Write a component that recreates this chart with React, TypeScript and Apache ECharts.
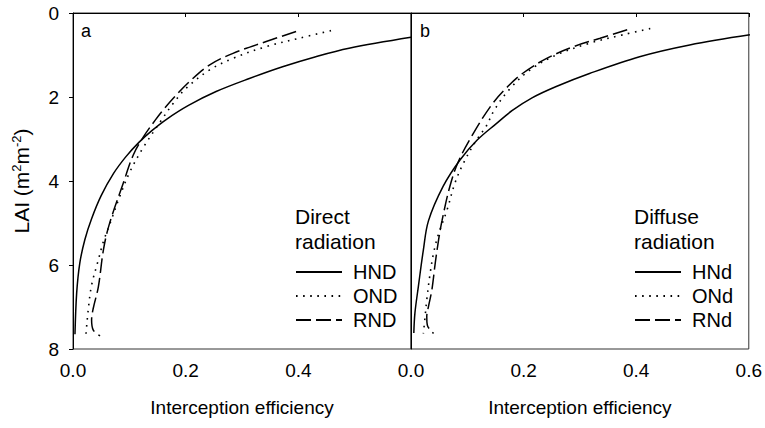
import React, { useEffect, useRef } from "react";
import * as echarts from "echarts";

// Panel a: direct radiation, [interception efficiency, LAI]
const hndA: number[][] = [
  [0.6, 0.58], [0.49, 0.84], [0.431, 1.04], [0.372, 1.28], [0.313, 1.56], [0.254, 1.87],
  [0.205, 2.2], [0.166, 2.53], [0.14, 2.8], [0.117, 3.08], [0.094, 3.42], [0.072, 3.82],
  [0.05, 4.35], [0.033, 4.9], [0.021, 5.4], [0.012, 5.96], [0.0065, 6.67], [0.0035, 7.65],
];
const ondA: number[][] = [
  [0.458, 0.42], [0.402, 0.6], [0.343, 0.8], [0.284, 1.08], [0.242, 1.36], [0.201, 1.79],
  [0.178, 2.15], [0.157, 2.55], [0.124, 3.22], [0.101, 3.78], [0.083, 4.37], [0.066, 5.0],
  [0.054, 5.44], [0.045, 5.88], [0.033, 6.48], [0.027, 7.07], [0.023, 7.65],
];
const rndA: number[][] = [
  [0.396, 0.44], [0.343, 0.68], [0.284, 0.96], [0.242, 1.24], [0.207, 1.63], [0.178, 2.03],
  [0.16, 2.31], [0.146, 2.55], [0.125, 2.95], [0.107, 3.38], [0.089, 4.06], [0.064, 5.05],
  [0.054, 5.64], [0.045, 6.52], [0.036, 7.03], [0.033, 7.31], [0.036, 7.55], [0.048, 7.69],
];
// Panel b: diffuse radiation
const hndB: number[][] = [
  [0.602, 0.52], [0.495, 0.76], [0.406, 1.04], [0.317, 1.44], [0.258, 1.75], [0.215, 2.02],
  [0.18, 2.32], [0.151, 2.64], [0.118, 3.02], [0.087, 3.5], [0.057, 4.13], [0.031, 4.95],
  [0.022, 5.64], [0.013, 6.52], [0.007, 7.14], [0.005, 7.62],
];
const ondB: number[][] = [
  [0.425, 0.37], [0.376, 0.52], [0.317, 0.72], [0.258, 1.0], [0.211, 1.36], [0.174, 1.83],
  [0.148, 2.31], [0.133, 2.71], [0.115, 3.05], [0.093, 3.58], [0.078, 4.05], [0.064, 4.69],
  [0.048, 5.3], [0.04, 5.72], [0.034, 6.2], [0.028, 6.83], [0.025, 7.23], [0.022, 7.63],
];
const rndB: number[][] = [
  [0.384, 0.4], [0.336, 0.6], [0.289, 0.8], [0.241, 1.08], [0.198, 1.44], [0.169, 1.79],
  [0.143, 2.19], [0.111, 2.86], [0.084, 3.54], [0.069, 4.13], [0.055, 4.95], [0.049, 5.4],
  [0.043, 5.96], [0.037, 6.6], [0.031, 6.99], [0.028, 7.23], [0.029, 7.43], [0.04, 7.63],
];

const namesA = ["HND", "OND", "RND"];
const namesB = ["HNd", "ONd", "RNd"];
const FONT = "'Liberation Sans', Arial, sans-serif";

export default function App() {
  const ref = useRef<HTMLDivElement>(null);
  useEffect(() => {
    if (!ref.current) return;
    const chart = echarts.init(ref.current, undefined, { renderer: "svg" });
    const solid = { color: "#000", width: 1.5, type: "solid" as any };
    const dotted = { color: "#000", width: 1.6, type: [1.6, 5.5] as any };
    const dashed = { color: "#000", width: 1.5, type: [15, 5] as any };
    const mk = (name: string, data: number[][], ls: any, idx: number) => ({
      name,
      type: "line",
      xAxisIndex: idx,
      yAxisIndex: idx,
      data,
      symbol: "none",
      smooth: 0.35,
      lineStyle: ls,
      itemStyle: { color: "#000" },
    });
    const xAx = (idx: number, showMax: boolean) => ({
      type: "value",
      gridIndex: idx,
      min: 0,
      max: 0.6,
      interval: 0.2,
      name: "Interception efficiency",
      nameLocation: "middle",
      nameGap: 49,
      nameTextStyle: { fontFamily: FONT, fontSize: 19, color: "#000" },
      axisLine: { show: true, lineStyle: { color: "#000", width: 1 } },
      axisTick: { show: true, length: 4, lineStyle: { color: "#000" } },
      axisLabel: {
        showMaxLabel: showMax,
        margin: 12,
        fontFamily: FONT,
        fontSize: 19,
        color: "#000",
        formatter: (v: number) => v.toFixed(1),
      },
      splitLine: { show: false },
    });
    const yAx = (idx: number, labels: boolean) => ({
      type: "value",
      gridIndex: idx,
      inverse: true,
      min: 0,
      max: 8,
      interval: 2,
      name: labels ? "{n|LAI (m}{s|2}{n|m}{s|-2}{n|)}" : "",
      nameLocation: "middle",
      nameRotate: 90,
      nameGap: 40,
      nameTextStyle: {
        fontFamily: FONT,
        color: "#000",
        rich: {
          n: { fontFamily: FONT, fontSize: 21, color: "#000" },
          s: { fontFamily: FONT, fontSize: 13, color: "#000", padding: [0, 0, 10, 0] },
        },
      },
      axisLine: { show: true, lineStyle: { color: "#000", width: 1 } },
      axisTick: { show: labels, length: 4, lineStyle: { color: "#000" } },
      axisLabel: { show: labels, margin: 14, fontFamily: FONT, fontSize: 19, color: "#000" },
      splitLine: { show: false },
    });
    const legend = (names: string[], left: number) => ({
      data: names,
      left,
      top: 257,
      orient: "vertical",
      itemWidth: 46,
      itemHeight: 14,
      itemGap: 4,
      itemStyle: { color: "transparent", borderColor: "transparent", borderWidth: 0, opacity: 0 },
      textStyle: { fontFamily: FONT, fontSize: 20, color: "#000", lineHeight: 20, padding: [0, 0, 0, 6] },
      selectedMode: false,
    });
    chart.setOption({
      animation: false,
      backgroundColor: "#fff",
      title: [
        {
          text: "Direct\nradiation",
          left: 290,
          top: 199,
          textStyle: { fontFamily: FONT, fontSize: 21, fontWeight: "normal", color: "#000", lineHeight: 25 },
        },
        {
          text: "Diffuse\nradiation",
          left: 629,
          top: 199,
          textStyle: { fontFamily: FONT, fontSize: 21, fontWeight: "normal", color: "#000", lineHeight: 25 },
        },
        {
          text: "a",
          left: 76,
          top: 17,
          textStyle: { fontFamily: FONT, fontSize: 18, fontWeight: "normal", color: "#000" },
        },
        {
          text: "b",
          left: 415,
          top: 17,
          textStyle: { fontFamily: FONT, fontSize: 18, fontWeight: "normal", color: "#000" },
        },
      ],
      legend: [legend(namesA, 290), legend(namesB, 629)],
      grid: [
        { left: 73, top: 13, width: 338, height: 336, show: true, borderColor: "#333", borderWidth: 1, backgroundColor: "transparent" },
        { left: 411, top: 13, width: 338, height: 336, show: true, borderColor: "#333", borderWidth: 1, backgroundColor: "transparent" },
      ],
      xAxis: [xAx(0, false), xAx(1, true)],
      yAxis: [yAx(0, true), yAx(1, false)],
      series: [
        mk(namesA[0], hndA, solid, 0),
        mk(namesA[1], ondA, dotted, 0),
        mk(namesA[2], rndA, dashed, 0),
        mk(namesB[0], hndB, solid, 1),
        mk(namesB[1], ondB, dotted, 1),
        mk(namesB[2], rndB, dashed, 1),
      ],
    });
    return () => chart.dispose();
  }, []);
  return <div ref={ref} style={{ width: 765, height: 428, position: "absolute", left: 0, top: 0 }} />;
}
